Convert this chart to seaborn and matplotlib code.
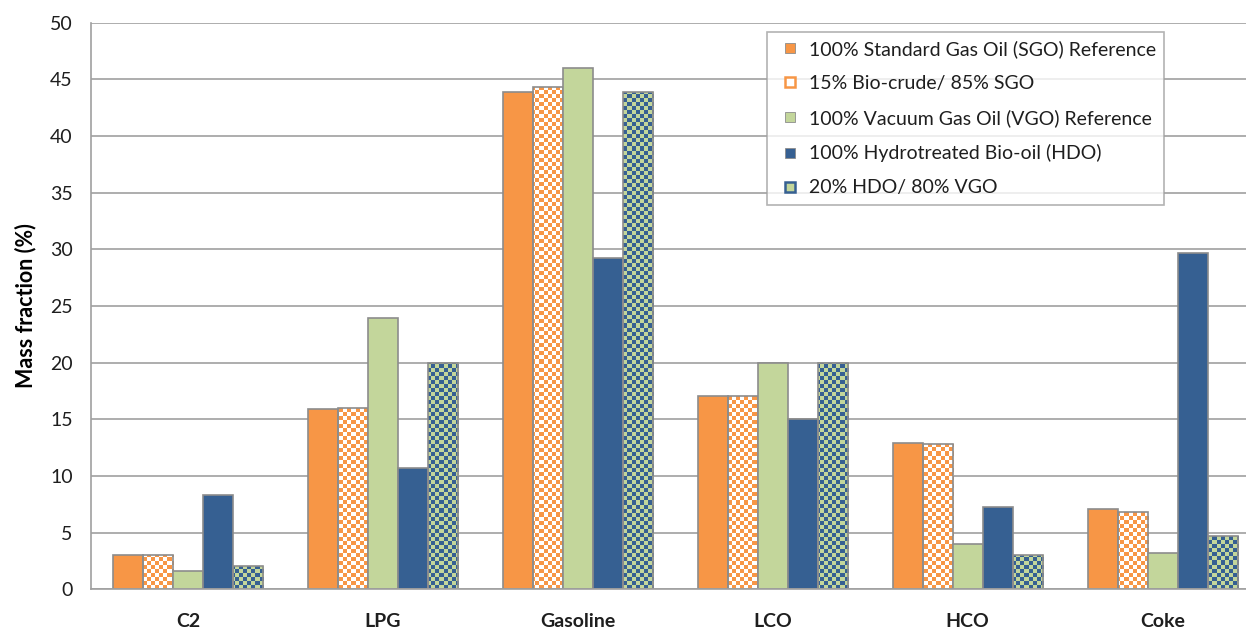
import numpy as np
import pandas as pd
import matplotlib
matplotlib.use("Agg")
import matplotlib.pyplot as plt
import seaborn as sns
from matplotlib.lines import Line2D
from matplotlib.colors import to_rgb

categories = ["C2", "LPG", "Gasoline", "LCO", "HCO", "Coke"]
series = [
    "100% Standard Gas Oil (SGO) Reference",
    "15% Bio-crude/ 85% SGO",
    "100% Vacuum Gas Oil (VGO) Reference",
    "100% Hydrotreated Bio-oil (HDO)",
    "20% HDO/ 80% VGO",
]
sgo = [3.0, 15.9, 43.9, 17.1, 12.9, 7.1]
bio15 = [3.0, 16.0, 44.3, 17.1, 12.8, 6.8]
vgo = [1.6, 23.9, 46.0, 20.0, 4.0, 3.2]
hdo = [8.3, 10.7, 29.2, 15.0, 7.3, 29.7]
hdo20 = [2.1, 20.0, 43.9, 20.0, 3.0, 4.7]
yticks = [0, 5, 10, 15, 20, 25, 30, 35, 40, 45, 50]

ORANGE = "#F79646"
GREEN = "#C3D69B"
BLUE = "#366092"
WHITE = "#FFFFFF"
GRAY = "#A0A0A0"
EDGE = "#8C8C8C"
TEXT = "#1E1E1E"

values = [sgo, bio15, vgo, hdo, hdo20]
rows = []
for s, vals in zip(series, values):
    for c, v in zip(categories, vals):
        rows.append({"category": c, "series": s, "value": v})
df = pd.DataFrame(rows)

sns.set_style("white")
plt.rcParams["font.family"] = ["Lato", "DejaVu Sans"]

W, H = 1246, 628
fig = plt.figure(figsize=(W / 100, H / 100), dpi=100)
ax_left, ax_right, ax_bottom, ax_top = 90.7, 1260.0, 589.3, 22.7
ax = fig.add_axes([ax_left / W, 1 - ax_bottom / H, (ax_right - ax_left) / W, (ax_bottom - ax_top) / H])

base_colors = [ORANGE, WHITE, GREEN, BLUE, GREEN]
sns.barplot(data=df, x="category", y="value", hue="series", hue_order=series,
            order=categories, palette=base_colors, width=0.77, saturation=1,
            edgecolor=EDGE, linewidth=1.2, legend=False, ax=ax, zorder=2)

ax.set_xlim(-0.5, 5.5)
ax.set_ylim(0, 50)

# checker textures for blended series
cell = 4.0
nx = int((ax_right - ax_left) / cell)
ny = int((ax_bottom - ax_top) / cell)
ii, jj = np.meshgrid(np.arange(nx), np.arange(ny))
mask = ((ii + jj) % 2 == 0)

def checker(c1, c2):
    img = np.empty((ny, nx, 3))
    img[mask] = to_rgb(c1)
    img[~mask] = to_rgb(c2)
    return img

textures = {1: checker(ORANGE, WHITE), 4: checker(BLUE, GREEN)}
for k, img in textures.items():
    for bar in ax.containers[k]:
        im = ax.imshow(img, extent=(-0.5, 5.5, 0, 50), aspect="auto",
                       interpolation="nearest", zorder=1.9, origin="upper")
        im.set_clip_path(bar)
        bar.set_facecolor("none")
ax.set_xlim(-0.5, 5.5)
ax.set_ylim(0, 50)
ax.set_aspect("auto")

ax.set_yticks(yticks)
ax.yaxis.grid(True, color=GRAY, linewidth=1.2, zorder=0)
ax.set_axisbelow(True)
for side in ["top", "right"]:
    ax.spines[side].set_visible(False)
for side in ["left", "bottom"]:
    ax.spines[side].set_color(GRAY)
    ax.spines[side].set_linewidth(1.2)

ax.set_xticks(range(len(categories)))
ax.set_xticklabels(categories, fontsize=14, fontweight="bold", color=TEXT)
ax.set_xticks(np.arange(-0.5, 6, 1), minor=True)
ax.tick_params(axis="x", which="major", length=0, pad=17)
ax.tick_params(axis="x", which="minor", length=6, width=1.2, color=GRAY, direction="out")
ax.tick_params(axis="y", length=6, width=1.2, color=GRAY, direction="out",
               labelsize=14, labelcolor=TEXT, pad=7)
ax.set_xlabel("")
ax.set_ylabel("Mass fraction (%)", fontsize=15.5, fontweight="bold", labelpad=10, color="#000000")

def sq(face, edge, mew):
    return Line2D([], [], linestyle="none", marker="s", markersize=7.5,
                  markerfacecolor=face, markeredgecolor=edge, markeredgewidth=mew)

handles = [
    sq(ORANGE, EDGE, 0.6),
    sq(WHITE, ORANGE, 1.8),
    sq(GREEN, EDGE, 0.6),
    sq(BLUE, EDGE, 0.6),
    sq(GREEN, BLUE, 1.8),
]
leg = ax.legend(handles, series, loc="upper left",
                bbox_to_anchor=(767 / W, 1 - 32 / H), bbox_transform=fig.transFigure,
                borderaxespad=0, fontsize=14, frameon=True, fancybox=False,
                edgecolor=GRAY, handlelength=1.5, handletextpad=0.25,
                labelspacing=0.88, borderpad=0.42)
leg.get_frame().set_linewidth(1.2)
for t in leg.get_texts():
    t.set_color(TEXT)

fig.savefig("out.png", dpi=100)
